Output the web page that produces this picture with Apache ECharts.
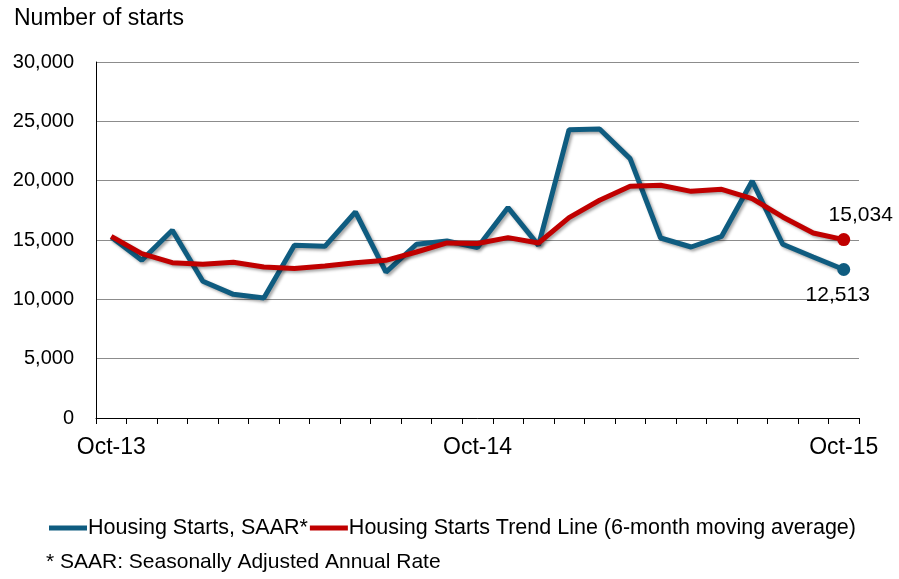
<!DOCTYPE html>
<html>
<head>
<meta charset="utf-8">
<script src="https://cdn.jsdelivr.net/npm/echarts@6/dist/echarts.min.js"></script>
<style>html,body{margin:0;padding:0;background:#fff}#c{width:899px;height:579px}</style>
</head>
<body>
<div id="c"></div>
<script>
const categories = ['Oct-13','Nov-13','Dec-13','Jan-14','Feb-14','Mar-14','Apr-14','May-14','Jun-14','Jul-14','Aug-14','Sep-14','Oct-14','Nov-14','Dec-14','Jan-15','Feb-15','Mar-15','Apr-15','May-15','Jun-15','Jul-15','Aug-15','Sep-15','Oct-15'];
const shownLabels = ['Oct-13','Oct-14','Oct-15'];
const saar = [15250,13290,15820,11520,10420,10110,14550,14470,17360,12300,14640,14920,14360,17730,14550,24300,24350,21860,15170,14410,15310,19970,14640,13570,12513];
const trend = [15300,13850,13090,12950,13120,12730,12590,12810,13090,13290,13990,14750,14700,15200,14750,16890,18350,19530,19610,19100,19270,18490,16940,15590,15034];
const yTicks = [0,5000,10000,15000,20000,25000,30000];
const seriesNames = ['Housing Starts, SAAR*','Housing Starts Trend Line (6-month moving average)'];

const FONT = 'Liberation Sans';
const fmt = v => v.toLocaleString('en-US');
const last = categories.length - 1;

function endData(arr, pos, dist, dx) {
  return arr.map((v, i) => i === last ? {
    value: v, symbol: 'circle', symbolSize: 13,
    label: { show: true, position: pos, distance: dist, offset:[dx,0], formatter: p => fmt(p.value), color:'#000', fontSize: 21, fontFamily: FONT }
  } : { value: v, symbol: 'none' });
}

const chart = echarts.init(document.getElementById('c'));
chart.setOption({
  animation: false,
  backgroundColor: '#fff',
  textStyle: { fontFamily: FONT },
  title: { text: 'Number of starts', left: 14, top: 7, padding: [0,0,0,0], textStyle: { fontFamily: FONT, fontSize: 23, fontWeight: 'normal', color: '#000' } },
  grid: { left: 96, right: 40, top: 62, bottom: 161 },
  legend: {
    left: 44, top: 512, itemWidth: 38, itemHeight: 5, itemGap: 2,
    icon: 'rect',
    textStyle: { fontFamily: FONT, fontSize: 21.5, color: '#000', padding: [0,0,0,-4] },
    data: seriesNames
  },
  graphic: [{
    type: 'text', left: 46, top: 552,
    style: { text: '* SAAR: Seasonally Adjusted Annual Rate', fontFamily: FONT, fontSize: 21, fill: '#000' }
  }],
  xAxis: {
    type: 'category', data: categories, boundaryGap: true,
    axisLine: { lineStyle: { color: '#000', width: 1 } },
    axisTick: { show: true, interval: 0, length: 6, lineStyle: { color: '#000' } },
    axisLabel: {
      interval: 0, margin: 18, color: '#000', fontSize: 23, fontFamily: FONT,
      formatter: v => shownLabels.includes(v) ? v : ''
    },
    splitLine: { show: false }
  },
  yAxis: {
    type: 'value', min: yTicks[0], max: yTicks[yTicks.length-1], interval: yTicks[1]-yTicks[0],
    axisLine: { show: true, lineStyle: { color: '#000', width: 1 } },
    axisTick: { show: false },
    axisLabel: { margin: 22, color: '#000', fontSize: 20, fontFamily: FONT, formatter: v => fmt(v) },
    splitLine: { lineStyle: { color: '#8c8c8c', width: 1.2 } }
  },
  series: [
    {
      name: seriesNames[0], type: 'line', data: endData(saar, 'bottom', 8.5, -6),
      color: '#0f5c80',
      lineStyle: { width: 5, color: '#0f5c80', shadowColor: 'rgba(0,0,0,0.35)', shadowBlur: 3, shadowOffsetX: 2, shadowOffsetY: 2 },
      itemStyle: { color: '#0f5c80' },
      z: 2
    },
    {
      name: seriesNames[1], type: 'line', data: endData(trend, 'top', 7, 17),
      color: '#c00000',
      lineStyle: { width: 5, color: '#c00000', shadowColor: 'rgba(0,0,0,0.35)', shadowBlur: 3, shadowOffsetX: 2, shadowOffsetY: 2 },
      itemStyle: { color: '#c00000' },
      z: 3
    }
  ]
});
</script>
</body>
</html>
